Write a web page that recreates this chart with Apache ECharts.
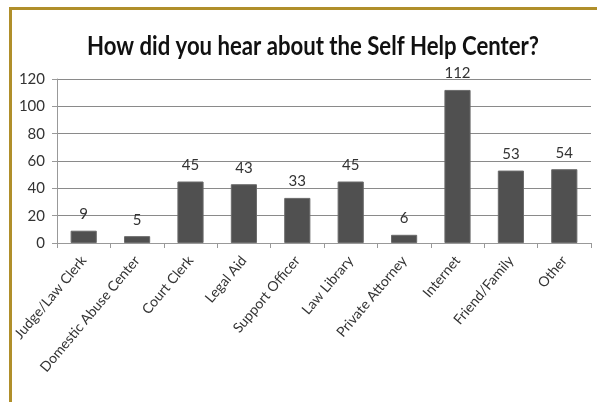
<!DOCTYPE html>
<html>
<head>
<meta charset="utf-8">
<script src="https://cdn.jsdelivr.net/npm/echarts@6/dist/echarts.min.js"></script>
<style>
  html, body { margin: 0; padding: 0; background: #fff; }
  #chart { width: 597px; height: 402px; }
</style>
</head>
<body>
<div id="chart"></div>
<script>
var sources = ['Judge/Law Clerk', 'Domestic Abuse Center', 'Court Clerk', 'Legal Aid', 'Support Officer',
               'Law Library', 'Private Attorney', 'Internet', 'Friend/Family', 'Other'];
var counts = [9, 5, 45, 43, 33, 45, 6, 112, 53, 54];
var yTicks = [0, 20, 40, 60, 80, 100, 120];

var myChart = echarts.init(document.getElementById('chart'));
var font = 'Lato, "Open Sans", sans-serif';
option = {
    backgroundColor: '#fff',
    animation: false,
    graphic: [
        { type: 'rect', shape: { x: 9, y: 7, width: 588, height: 3 }, style: { fill: '#b08f2a' } },
        { type: 'rect', shape: { x: 9, y: 7, width: 3, height: 395 }, style: { fill: '#b08f2a' } },
        // title, squeezed a little to look like the narrow office font
        {
            type: 'text', x: 313, y: 46, scaleX: 0.82,
            style: {
                text: 'How did you hear about the Self Help Center?',
                font: 'bold 27px ' + font,
                fill: '#111', align: 'center', verticalAlign: 'middle'
            }
        }
    ],
    grid: { left: 57, right: 6, top: 79, bottom: 159 },
    xAxis: {
        type: 'category',
        data: sources,
        axisLine: { lineStyle: { color: '#999' } },
        axisTick: { show: true, alignWithLabel: false, lineStyle: { color: '#999' } },
        axisLabel: {
            rotate: 50, interval: 0, margin: 15,
            fontFamily: font, fontSize: 14, color: '#333'
        }
    },
    yAxis: {
        type: 'value',
        min: yTicks[0], max: yTicks[yTicks.length - 1], interval: 20,
        axisLine: { show: true, lineStyle: { color: '#999' } },
        axisTick: { show: true, length: 5, lineStyle: { color: '#999' } },
        splitLine: { lineStyle: { color: '#8a8a8a' } },
        axisLabel: { fontFamily: font, fontSize: 15, color: '#333', margin: 12 }
    },
    series: [{
        type: 'bar',
        data: counts,
        barWidth: '49%',
        itemStyle: { color: '#505050', borderColor: '#6a6a6a', borderWidth: 1 },
        label: {
            show: true, position: 'top', distance: 9,
            fontFamily: font, fontSize: 15, color: '#333'
        }
    }]
};
myChart.setOption(option);
</script>
</body>
</html>
